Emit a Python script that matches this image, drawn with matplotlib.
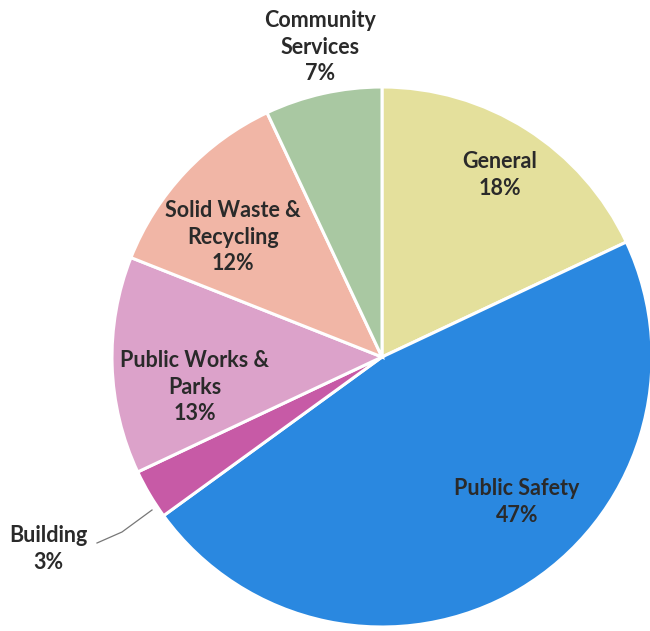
import matplotlib
matplotlib.use("Agg")
import matplotlib.pyplot as plt

categories = ["General", "Public Safety", "Building", "Public Works &\nParks",
              "Solid Waste &\nRecycling", "Community\nServices"]
values = [18, 47, 3, 13, 12, 7]
colors = ["#e4e09c", "#2a88e0", "#c75aa6", "#dca2ca", "#f1b6a6", "#a9c8a2"]

# label positions in pixel coords (x, y from top)
label_pos = [(500, 175), (517, 502), (48, 549), (195, 387), (233, 237), (320, 47)]

W, H = 650, 631
fig = plt.figure(figsize=(W / 100, H / 100), dpi=100)
ax = fig.add_axes([0, 0, 1, 1])
ax.axis("off")

cx, cy, r = 382, H - 357, 270
ax.pie(values, colors=colors, startangle=90, counterclock=False,
       center=(cx, cy), radius=r,
       wedgeprops=dict(edgecolor="white", linewidth=2.2))
ax.set_xlim(0, W)
ax.set_ylim(0, H)
ax.set_aspect("equal")

for cat, v, (x, y) in zip(categories, values, label_pos):
    ax.text(x, H - y, f"{cat}\n{v}%", ha="center", va="center",
            fontsize=15.5, fontweight="bold", family=["Lato", "DejaVu Sans"],
            color="#2a2a2a", linespacing=1.3)

# leader line for Building
ax.plot([97, 122, 152], [H - 543, H - 532, H - 510], color="#777777", lw=0.9)

fig.savefig("out.png", dpi=100, facecolor="white")
